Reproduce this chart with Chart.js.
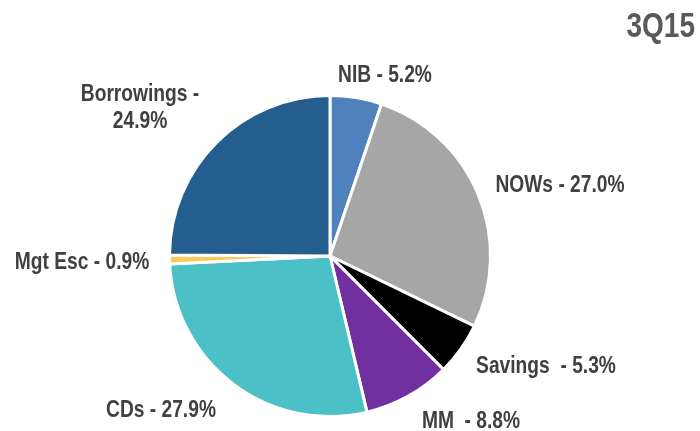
<!DOCTYPE html>
<html>
<head>
<meta charset="utf-8">
<script src="https://cdn.jsdelivr.net/npm/chart.js@4/dist/chart.umd.min.js"></script>
<style>
html,body{margin:0;padding:0;background:#fff;}
#wrap{position:relative;width:700px;height:431px;}
</style>
</head>
<body>
<div id="wrap"><canvas id="c" width="700" height="431"></canvas></div>
<script>
const categories = ['NIB', 'NOWs', 'Savings', 'MM', 'CDs', 'Mgt Esc', 'Borrowings'];
const shares = [5.2, 27.0, 5.3, 8.8, 27.9, 0.9, 24.9];
const labelLines = [
  ['NIB - 5.2%'],
  ['NOWs - 27.0%'],
  ['Savings  - 5.3%'],
  ['MM  - 8.8%'],
  ['CDs - 27.9%'],
  ['Mgt Esc - 0.9%'],
  ['Borrowings -', '24.9%']
];
const periodTitle = '3Q15';

const colors = ['#4F81BD', '#A6A6A6', '#000000', '#7030A0', '#4BC0C6', '#FFC85A', '#235E8E'];
// label baseline offsets from pie centre (layout only)
const labelOffsets = [[55,-174],[230,-64],[216,117],[141,172],[-169,161],[-248,13],[-190,-155]];
const FONT = '"Liberation Sans", Arial, sans-serif';

const labelPlugin = {
  id: 'sliceLabels',
  afterDraw(chart) {
    const ctx = chart.ctx;
    const meta = chart.getDatasetMeta(0);
    const arc0 = meta.data[0];
    const cx = arc0.x, cy = arc0.y;
    ctx.save();
    ctx.fillStyle = '#404040';
    ctx.font = 'bold 24px ' + FONT;
    ctx.textAlign = 'center';
    ctx.textBaseline = 'alphabetic';
    labelLines.forEach((lines, i) => {
      const [dx, dy] = labelOffsets[i];
      lines.forEach((t, j) => {
        ctx.save();
        ctx.translate(cx + dx, cy + dy + j * 27);
        ctx.scale(0.8, 1);
        ctx.fillText(t, 0, 0);
        ctx.restore();
      });
    });
    ctx.fillStyle = '#595959';
    ctx.font = 'bold 35px ' + FONT;
    ctx.textAlign = 'right';
    ctx.save();
    ctx.translate(695, 37);
    ctx.scale(0.8, 1);
    ctx.fillText(periodTitle, 0, 0);
    ctx.restore();
    ctx.restore();
  }
};

new Chart(document.getElementById('c'), {
  type: 'pie',
  data: {
    labels: categories,
    datasets: [{
      data: shares,
      backgroundColor: colors,
      borderColor: '#ffffff',
      borderWidth: 3
    }]
  },
  options: {
    responsive: false,
    animation: false,
    layout: { padding: { left: 168, right: 208, top: 94, bottom: 13 } },
    plugins: { legend: { display: false }, tooltip: { enabled: false }, title: { display: false } }
  },
  plugins: [labelPlugin]
});
</script>
</body>
</html>
